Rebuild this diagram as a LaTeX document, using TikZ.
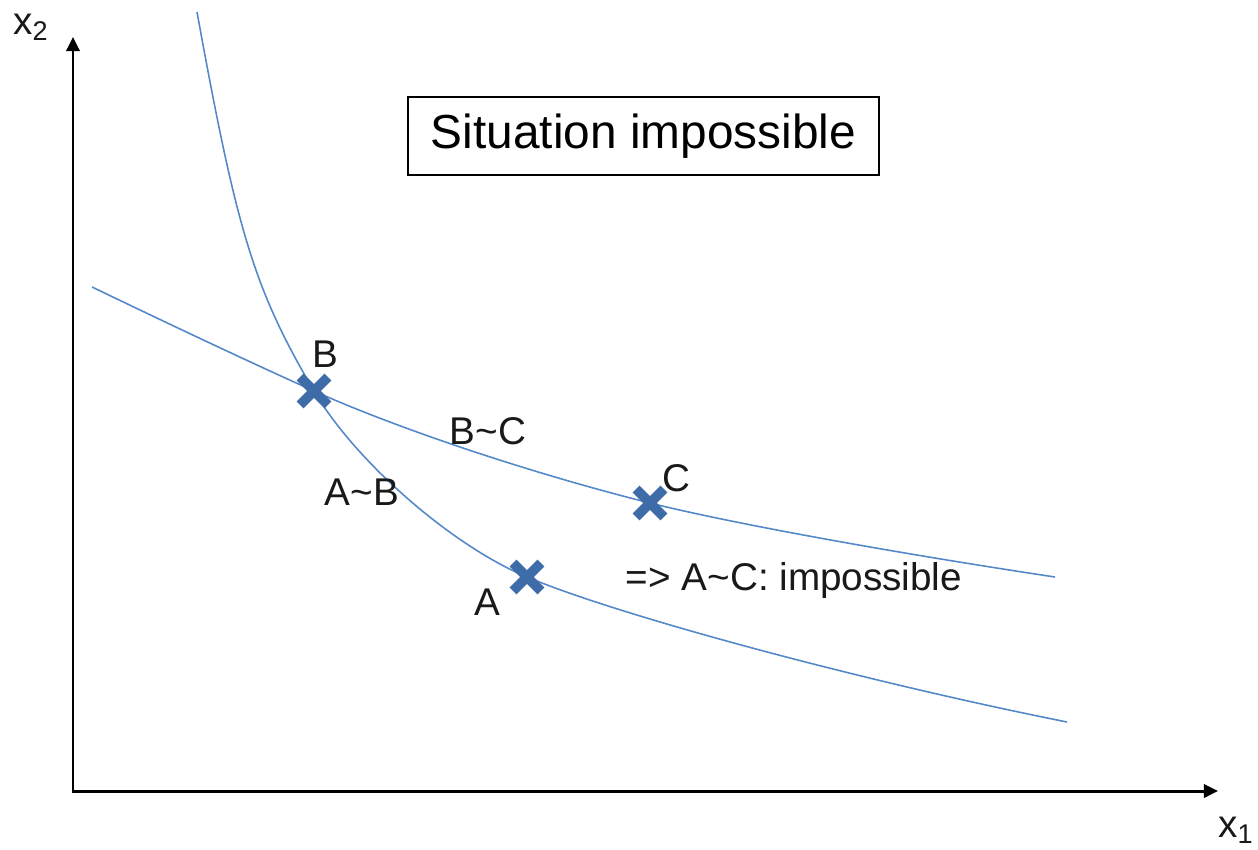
\documentclass[tikz,border=0pt]{standalone}
\usepackage{fontspec}
\setmainfont{Liberation Sans}
\usetikzlibrary{arrows.meta,shapes.misc}
\definecolor{curveblue}{RGB}{84,136,200}
\definecolor{markblue}{RGB}{62,108,168}
\tikzset{
  axisline/.style={line width=1.7pt, black, {Triangle[length=8pt,width=7.5pt]}-{Triangle[length=8pt,width=7.5pt]}},
  curveline/.style={line width=0.9pt, curveblue},
  xmark/.style={cross out, draw=markblue, line width=5.6pt, minimum size=0.36cm, inner sep=0pt},
  lbl/.style={font=\fontsize{22}{26}\selectfont, inner sep=0pt, text=black!90},
  titlebox/.style={draw, line width=0.8pt, font=\fontsize{27.2}{30}\selectfont, minimum width=9.42cm, minimum height=1.56cm, inner sep=0pt}
}
\begin{document}
\begin{tikzpicture}[x=0.02cm,y=-0.02cm]
\useasboundingbox (0,0) rectangle (1258,849);
% axes
\coordinate (Ytop) at (73,37);
\coordinate (O) at (73,791);
\coordinate (Xend) at (1218,791);
\draw[axisline] (Ytop) -- (O) -- (Xend);
\node[lbl, anchor=center] (x2) at (31,27) {x\textsubscript{2}};
\node[lbl, anchor=center] (x1) at (1236,830) {x\textsubscript{1}};
% curve points
\coordinate (L0) at (197,12);
\coordinate (LE) at (1067,722);
\coordinate (U0) at (92,287);
\coordinate (UE) at (1055,577);
\coordinate (pB) at (314,391);
\coordinate (pA) at (527,577);
\coordinate (pC) at (650,503);
% A~B indifference curve
\draw[curveline] (L0) .. controls (237,232) and (254,289) .. (pB)
  .. controls (355.5,461.7) and (451.4,545.4) .. (pA)
  .. controls (619.4,615.8) and (862.4,681.1) .. (LE);
% B~C indifference curve
\draw[curveline] (U0) .. controls (166,322.5) and (240,357.7) .. (pB)
  .. controls (398,428.8) and (532.4,473.6) .. (pC)
  .. controls (729.5,522.9) and (891.5,552.4) .. (UE);
% marks
\node[xmark] (B) at (pB) {};
\node[xmark] (A) at (pA) {};
\node[xmark] (C) at (pC) {};
% labels
\node[lbl] (lB) at (325,354) {B};
\node[lbl] (lA) at (487,602) {A};
\node[lbl] (lC) at (676,478) {C};
\node[lbl] (lAB) at (362,492) {A\char`\~B};
\node[lbl] (lBC) at (488,431) {B\char`\~C};
\node[lbl] (lAC) at (794,580) {=> A\char`\~C: impossible};
\node[titlebox] (title) at (643.5,136) {Situation impossible};
\end{tikzpicture}
\end{document}
